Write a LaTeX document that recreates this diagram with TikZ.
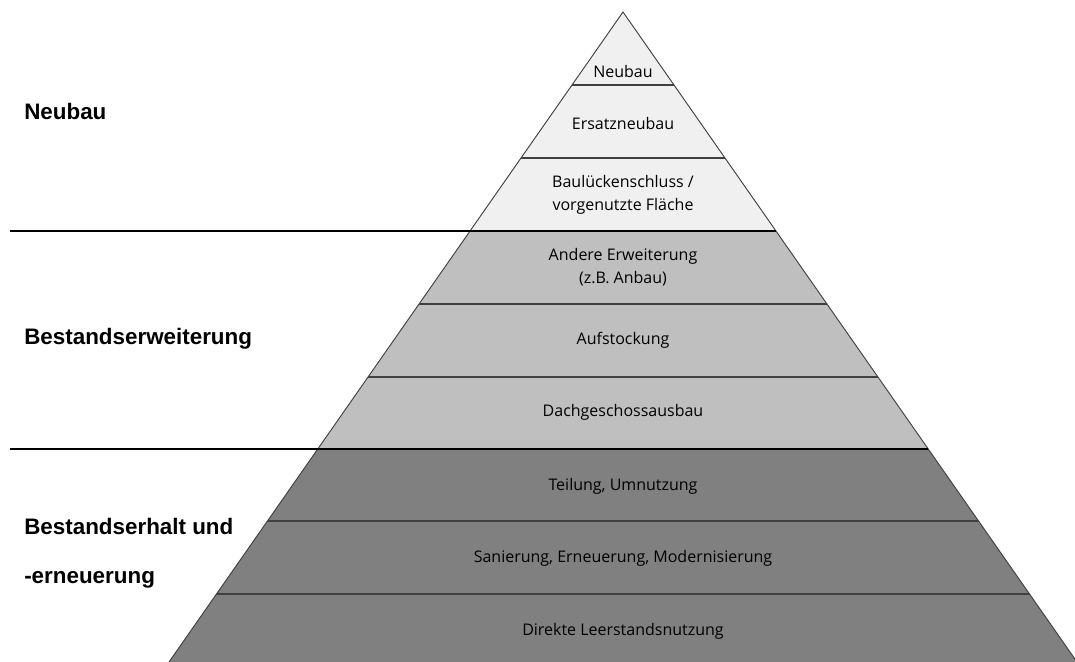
\documentclass[tikz,border=0pt]{standalone}
\usepackage{fontspec}
\setmainfont{Open Sans}
\newfontfamily\titelfont{Liberation Sans}

\begin{document}
\begin{tikzpicture}
	[
	x=0.75pt, y=-0.75pt, font=\fontsize{12}{17}\selectfont,
	%Voreinstellungen
	schicht/.style={draw=black!75, line width=0.9pt},
	trenn/.style={draw=black, line width=1.1pt},
	titel/.style={anchor=base west, inner sep=0pt, font=\titelfont\bfseries\fontsize{16.8}{18}\selectfont},
	stufe/.style={align=center, inner sep=0pt, text=black}
	]
	
	%Rahmen
	\useasboundingbox (0,0) rectangle (1075,661);
	
	%Pyramide, Flaechen
	\begin{scope}
		\clip (623,12) -- (1080.5,667) -- (165.5,667) -- cycle;
		\fill[black!6] (150,12) rectangle (1100,231);
		\fill[black!25] (150,231) rectangle (1100,449);
		\fill[black!50] (150,449) rectangle (1100,667);
		%Schichtgrenzen
		\foreach \h in {85,158,304,377,521,594}
			\draw[schicht] (150,\h) -- (1100,\h);
	\end{scope}
	
	%Umriss
	\draw[schicht, line width=0.7pt] (165.5,667) -- (623,12) -- (1080.5,667);
	
	%Trennlinien
	\draw[trenn] (10,231) -- (776,231);
	\draw[trenn] (10,449) -- (928,449);
	
	%Beschriftung links
	\node[titel] (tneubau) at (24,119) {Neubau};
	\node[titel] (terweiterung) at (24,344) {Bestandserweiterung};
	\node[titel] (terhalt) at (24,534) {Bestandserhalt und};
	\node[titel] (terhaltb) at (24,583) {-erneuerung};
	
	%Beschriftung Pyramide
	\node[stufe] (neubau) at (623,71) {Neubau};
	\node[stufe] (ersatz) at (623,123) {Ersatzneubau};
	\node[stufe] (luecke) at (623,195) {Baulückenschluss /\\vorgenutzte Fläche};
	\node[stufe] (andere) at (623,267) {Andere Erweiterung\\(z.B. Anbau)};
	\node[stufe] (aufstock) at (623,340) {Aufstockung};
	\node[stufe] (dach) at (623,412) {Dachgeschossausbau};
	\node[stufe] (teilung) at (623,486) {Teilung, Umnutzung};
	\node[stufe] (sanierung) at (623,558) {Sanierung, Erneuerung, Modernisierung};
	\node[stufe] (leerstand) at (623,631) {Direkte Leerstandsnutzung};
\end{tikzpicture}
\end{document}
